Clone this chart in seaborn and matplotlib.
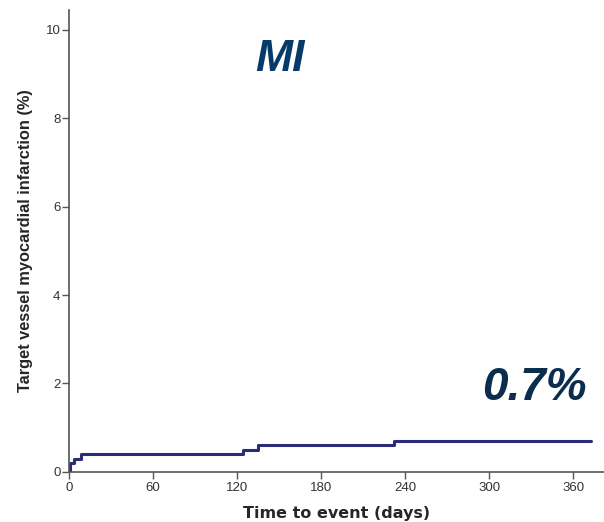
import numpy as np
import pandas as pd
import matplotlib
matplotlib.use("Agg")
import matplotlib.pyplot as plt
import seaborn as sns

# Données (courbe cumulative en escalier)
days = [0, 0.5, 3.6, 9, 124, 135, 232, 373]
rate = [0.0, 0.2, 0.3, 0.4, 0.5, 0.6, 0.7, 0.7]
x_ticks = [0, 60, 120, 180, 240, 300, 360]
y_ticks = [0, 2, 4, 6, 8, 10]

df = pd.DataFrame({"days": days, "rate": rate})

sns.set_style("white")
plt.rcParams['font.family'] = ['Liberation Sans', 'DejaVu Sans']

fig = plt.figure(figsize=(6.04, 5.22), dpi=100)
ax = fig.add_axes([0.114, 0.096, 0.886, 0.885])

sns.lineplot(data=df, x="days", y="rate", drawstyle="steps-post",
             color="#2b2b78", linewidth=2.2, ax=ax)

ax.set_xlim(0, 382)
ax.set_ylim(0, 10.45)
ax.set_xticks(x_ticks)
ax.set_yticks(y_ticks)
ax.tick_params(axis="both", direction="out", length=5, width=1, color="#555555",
               labelsize=9.5, labelcolor="#333333", pad=2, bottom=True, left=True)
ax.tick_params(axis="y", pad=1)
for s in ["top", "right"]:
    ax.spines[s].set_visible(False)
for s in ["left", "bottom"]:
    ax.spines[s].set_color("#555555")
    ax.spines[s].set_linewidth(1.2)

ax.set_xlabel("Time to event (days)", fontsize=11.5, fontweight="bold", labelpad=9,
              family="DejaVu Sans")
ax.set_ylabel("Target vessel myocardial infarction (%)", fontsize=11.8, fontweight="bold", labelpad=9)

ax.text(150.7, 9.32, "MI", fontsize=32, fontweight="bold", style="italic",
        color="#063a6b", ha="center", va="center")
ax.text(332.5, 1.89, "0.7%", fontsize=33, fontweight="bold", style="italic",
        color="#0c2e4e", ha="center", va="center")

fig.savefig("out.png", dpi=100)
